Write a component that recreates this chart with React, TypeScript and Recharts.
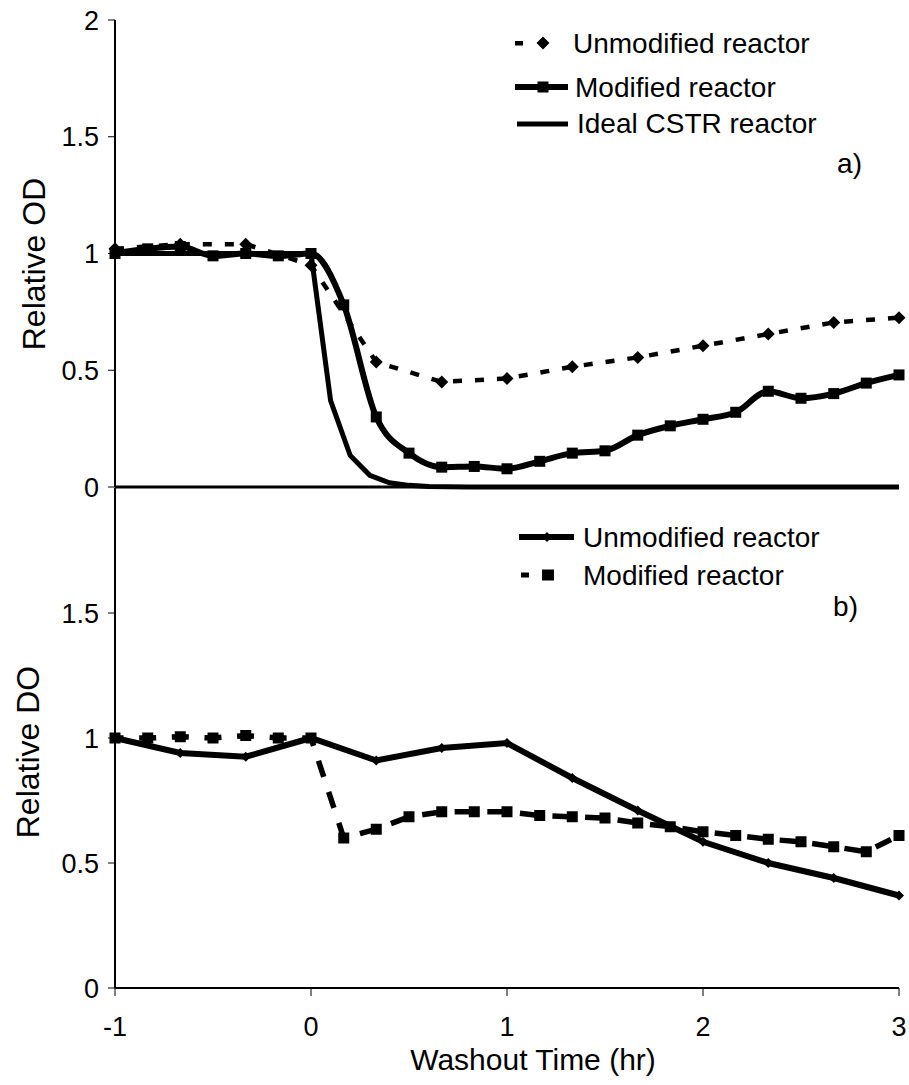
import React from 'react';
import { LineChart, Line, XAxis, YAxis } from 'recharts';

const FONT = '"Liberation Sans", Arial, Helvetica, sans-serif';

// a) relative OD
const odUnmodTime = [-1, -0.667, -0.333, 0, 0.333, 0.667, 1, 1.333, 1.667, 2, 2.333, 2.667, 3];
const odUnmod = [1.02, 1.04, 1.04, 0.95, 0.535, 0.45, 0.465, 0.515, 0.555, 0.605, 0.655, 0.705, 0.725];

const odModTime = [-1, -0.833, -0.667, -0.5, -0.333, -0.167, 0, 0.167, 0.333, 0.5, 0.667, 0.833, 1, 1.167, 1.333, 1.5, 1.667, 1.833, 2, 2.167, 2.333, 2.5, 2.667, 2.833, 3];
const odMod = [1.0, 1.02, 1.03, 0.99, 1.0, 0.99, 1.0, 0.78, 0.3, 0.145, 0.085, 0.088, 0.078, 0.11, 0.145, 0.155, 0.222, 0.262, 0.29, 0.32, 0.41, 0.38, 0.4, 0.445, 0.48];

const idealTime = [-1, 0, 0.1, 0.2, 0.3, 0.4, 0.5, 0.6, 0.8, 1, 3];
const idealOd = [1, 1, 0.37, 0.135, 0.05, 0.018, 0.007, 0.0025, 0, 0, 0];

// b) relative DO
const doUnmodTime = [-1, -0.667, -0.333, 0, 0.333, 0.667, 1, 1.333, 1.667, 2, 2.333, 2.667, 3];
const doUnmod = [1.0, 0.94, 0.925, 1.0, 0.91, 0.96, 0.98, 0.84, 0.71, 0.585, 0.5, 0.44, 0.37];

const doModTime = [-1, -0.833, -0.667, -0.5, -0.333, -0.167, 0, 0.167, 0.333, 0.5, 0.667, 0.833, 1, 1.167, 1.333, 1.5, 1.667, 1.833, 2, 2.167, 2.333, 2.5, 2.667, 2.833, 3];
const doMod = [1.0, 1.0, 1.005, 1.0, 1.01, 1.0, 1.0, 0.6, 0.635, 0.685, 0.705, 0.705, 0.705, 0.69, 0.685, 0.68, 0.66, 0.645, 0.625, 0.61, 0.595, 0.585, 0.565, 0.545, 0.61];

const xTicks = [-1, 0, 1, 2, 3];
const odTicks = [0, 0.5, 1, 1.5, 2];
const doTicks = [0, 0.5, 1, 1.5];

const legendA = ['Unmodified reactor', 'Modified reactor', 'Ideal CSTR reactor'];
const legendB = ['Unmodified reactor', 'Modified reactor'];

const zip = (t: number[], v: number[]) => t.map((time, i) => ({ time, value: v[i] }));

const diamond = (size: number) => (p: any) => {
  const { cx, cy, index } = p;
  if (cx == null || cy == null) return <g key={`d${index}`} />;
  const h = size / 2;
  return (
    <path
      key={`d${index}`}
      d={`M${cx},${cy - h}L${cx + h},${cy}L${cx},${cy + h}L${cx - h},${cy}Z`}
      fill="#000"
    />
  );
};

const square = (w: number, h: number) => (p: any) => {
  const { cx, cy, index } = p;
  if (cx == null || cy == null) return <g key={`s${index}`} />;
  return <rect key={`s${index}`} x={cx - w / 2} y={cy - h / 2} width={w} height={h} fill="#000" />;
};

const tickStyle = { fill: '#000', fontSize: 27, fontFamily: FONT };

export default function App() {
  return (
    <div style={{ position: 'absolute', left: 0, top: 0, width: 909, height: 1085, background: '#fff' }}>
      {/* b) panel, drawn first so panel a) sits above it */}
      <div style={{ position: 'absolute', left: 0, top: 480 }}>
        <LineChart width={909} height={605} margin={{ top: 8, right: 10, bottom: 17, left: 55 }}>
          <XAxis
            type="number"
            dataKey="time"
            domain={[-1, 3]}
            ticks={xTicks}
            interval={0}
            height={80}
            tickSize={8}
            tickMargin={21}
            axisLine={{ stroke: '#000', strokeWidth: 2 }}
            tickLine={{ stroke: '#000', strokeWidth: 1 }}
            tick={tickStyle}
            label={() => (
              <text x={533} y={590} textAnchor="middle" fontSize={30} fontFamily={FONT} fill="#000">
                Washout Time (hr)
              </text>
            )}
          />
          <YAxis
            type="number"
            domain={[0, 2]}
            ticks={doTicks}
            interval={0}
            width={60}
            tickSize={7}
            tickMargin={9}
            axisLine={{ stroke: '#000', strokeWidth: 2 }}
            tickLine={{ stroke: '#000', strokeWidth: 1 }}
            tick={tickStyle}
            label={() => (
              <text
                x={28}
                y={272}
                transform="rotate(-90 28 272)"
                textAnchor="middle"
                dominantBaseline="central"
                fontSize={32}
                fontFamily={FONT}
                fill="#000"
              >
                Relative DO
              </text>
            )}
          />
          <Line
            data={zip(doModTime, doMod)}
            dataKey="value"
            type="linear"
            stroke="#000"
            strokeWidth={5.5}
            strokeDasharray="17 15.67"
            strokeDashoffset={8.5}
            dot={square(11, 11)}
            isAnimationActive={false}
          />
          <Line
            data={zip(doUnmodTime, doUnmod)}
            dataKey="value"
            type="linear"
            stroke="#000"
            strokeWidth={6}
            dot={diamond(10)}
            isAnimationActive={false}
          />
        </LineChart>
      </div>

      <div style={{ position: 'absolute', left: 0, top: 0 }}>
        <LineChart width={909} height={530} margin={{ top: 20, right: 10, bottom: 42, left: 55 }}>
          <XAxis
            type="number"
            dataKey="time"
            domain={[-1, 3]}
            ticks={xTicks}
            tick={false}
            tickLine={false}
            height={1}
            axisLine={{ stroke: '#000', strokeWidth: 3 }}
          />
          <YAxis
            type="number"
            domain={[0, 2]}
            ticks={odTicks}
            interval={0}
            width={60}
            tickSize={7}
            tickMargin={9}
            axisLine={{ stroke: '#000', strokeWidth: 2 }}
            tickLine={{ stroke: '#000', strokeWidth: 1 }}
            tick={tickStyle}
            label={() => (
              <text
                x={34}
                y={264}
                transform="rotate(-90 34 264)"
                textAnchor="middle"
                dominantBaseline="central"
                fontSize={32}
                fontFamily={FONT}
                fill="#000"
              >
                Relative OD
              </text>
            )}
          />
          <Line
            data={zip(idealTime, idealOd)}
            dataKey="value"
            type="linear"
            stroke="#000"
            strokeWidth={5}
            dot={false}
            isAnimationActive={false}
          />
          <Line
            data={zip(odUnmodTime, odUnmod)}
            dataKey="value"
            type="linear"
            stroke="#000"
            strokeWidth={4.5}
            strokeDasharray="9 13"
            dot={diamond(13)}
            isAnimationActive={false}
          />
          <Line
            data={zip(odModTime, odMod)}
            dataKey="value"
            type="monotone"
            stroke="#000"
            strokeWidth={6}
            dot={square(11, 11)}
            isAnimationActive={false}
          />
        </LineChart>
      </div>

      <svg
        width={909}
        height={1085}
        style={{ position: 'absolute', left: 0, top: 0, pointerEvents: 'none' }}
        fontFamily={FONT}
        fontSize={28}
      >
        {/* legend a */}
        <rect x={515} y={41} width={8} height={4.5} fill="#000" />
        <path d="M543,36.5L549.5,43L543,49.5L536.5,43Z" fill="#000" />
        <text x={573} y={53}>{legendA[0]}</text>
        <line x1={515} y1={87} x2={568} y2={87} stroke="#000" strokeWidth={6} />
        <rect x={537.5} y={81.5} width={11} height={11} fill="#000" />
        <text x={575} y={97}>{legendA[1]}</text>
        <line x1={517} y1={124} x2={568} y2={124} stroke="#000" strokeWidth={5} />
        <text x={577} y={133}>{legendA[2]}</text>
        <text x={862} y={173} textAnchor="end">a)</text>

        {/* legend b */}
        <line x1={519} y1={537} x2={574} y2={537} stroke="#000" strokeWidth={6} />
        <path d="M547,532L552,537L547,542L542,537Z" fill="#000" />
        <text x={583} y={547}>{legendB[0]}</text>
        <rect x={521} y={572.5} width={8} height={5} fill="#000" />
        <rect x={542} y={569.5} width={12} height={11} fill="#000" />
        <text x={583} y={585}>{legendB[1]}</text>
        <text x={858} y={616} textAnchor="end">b)</text>
      </svg>
    </div>
  );
}
